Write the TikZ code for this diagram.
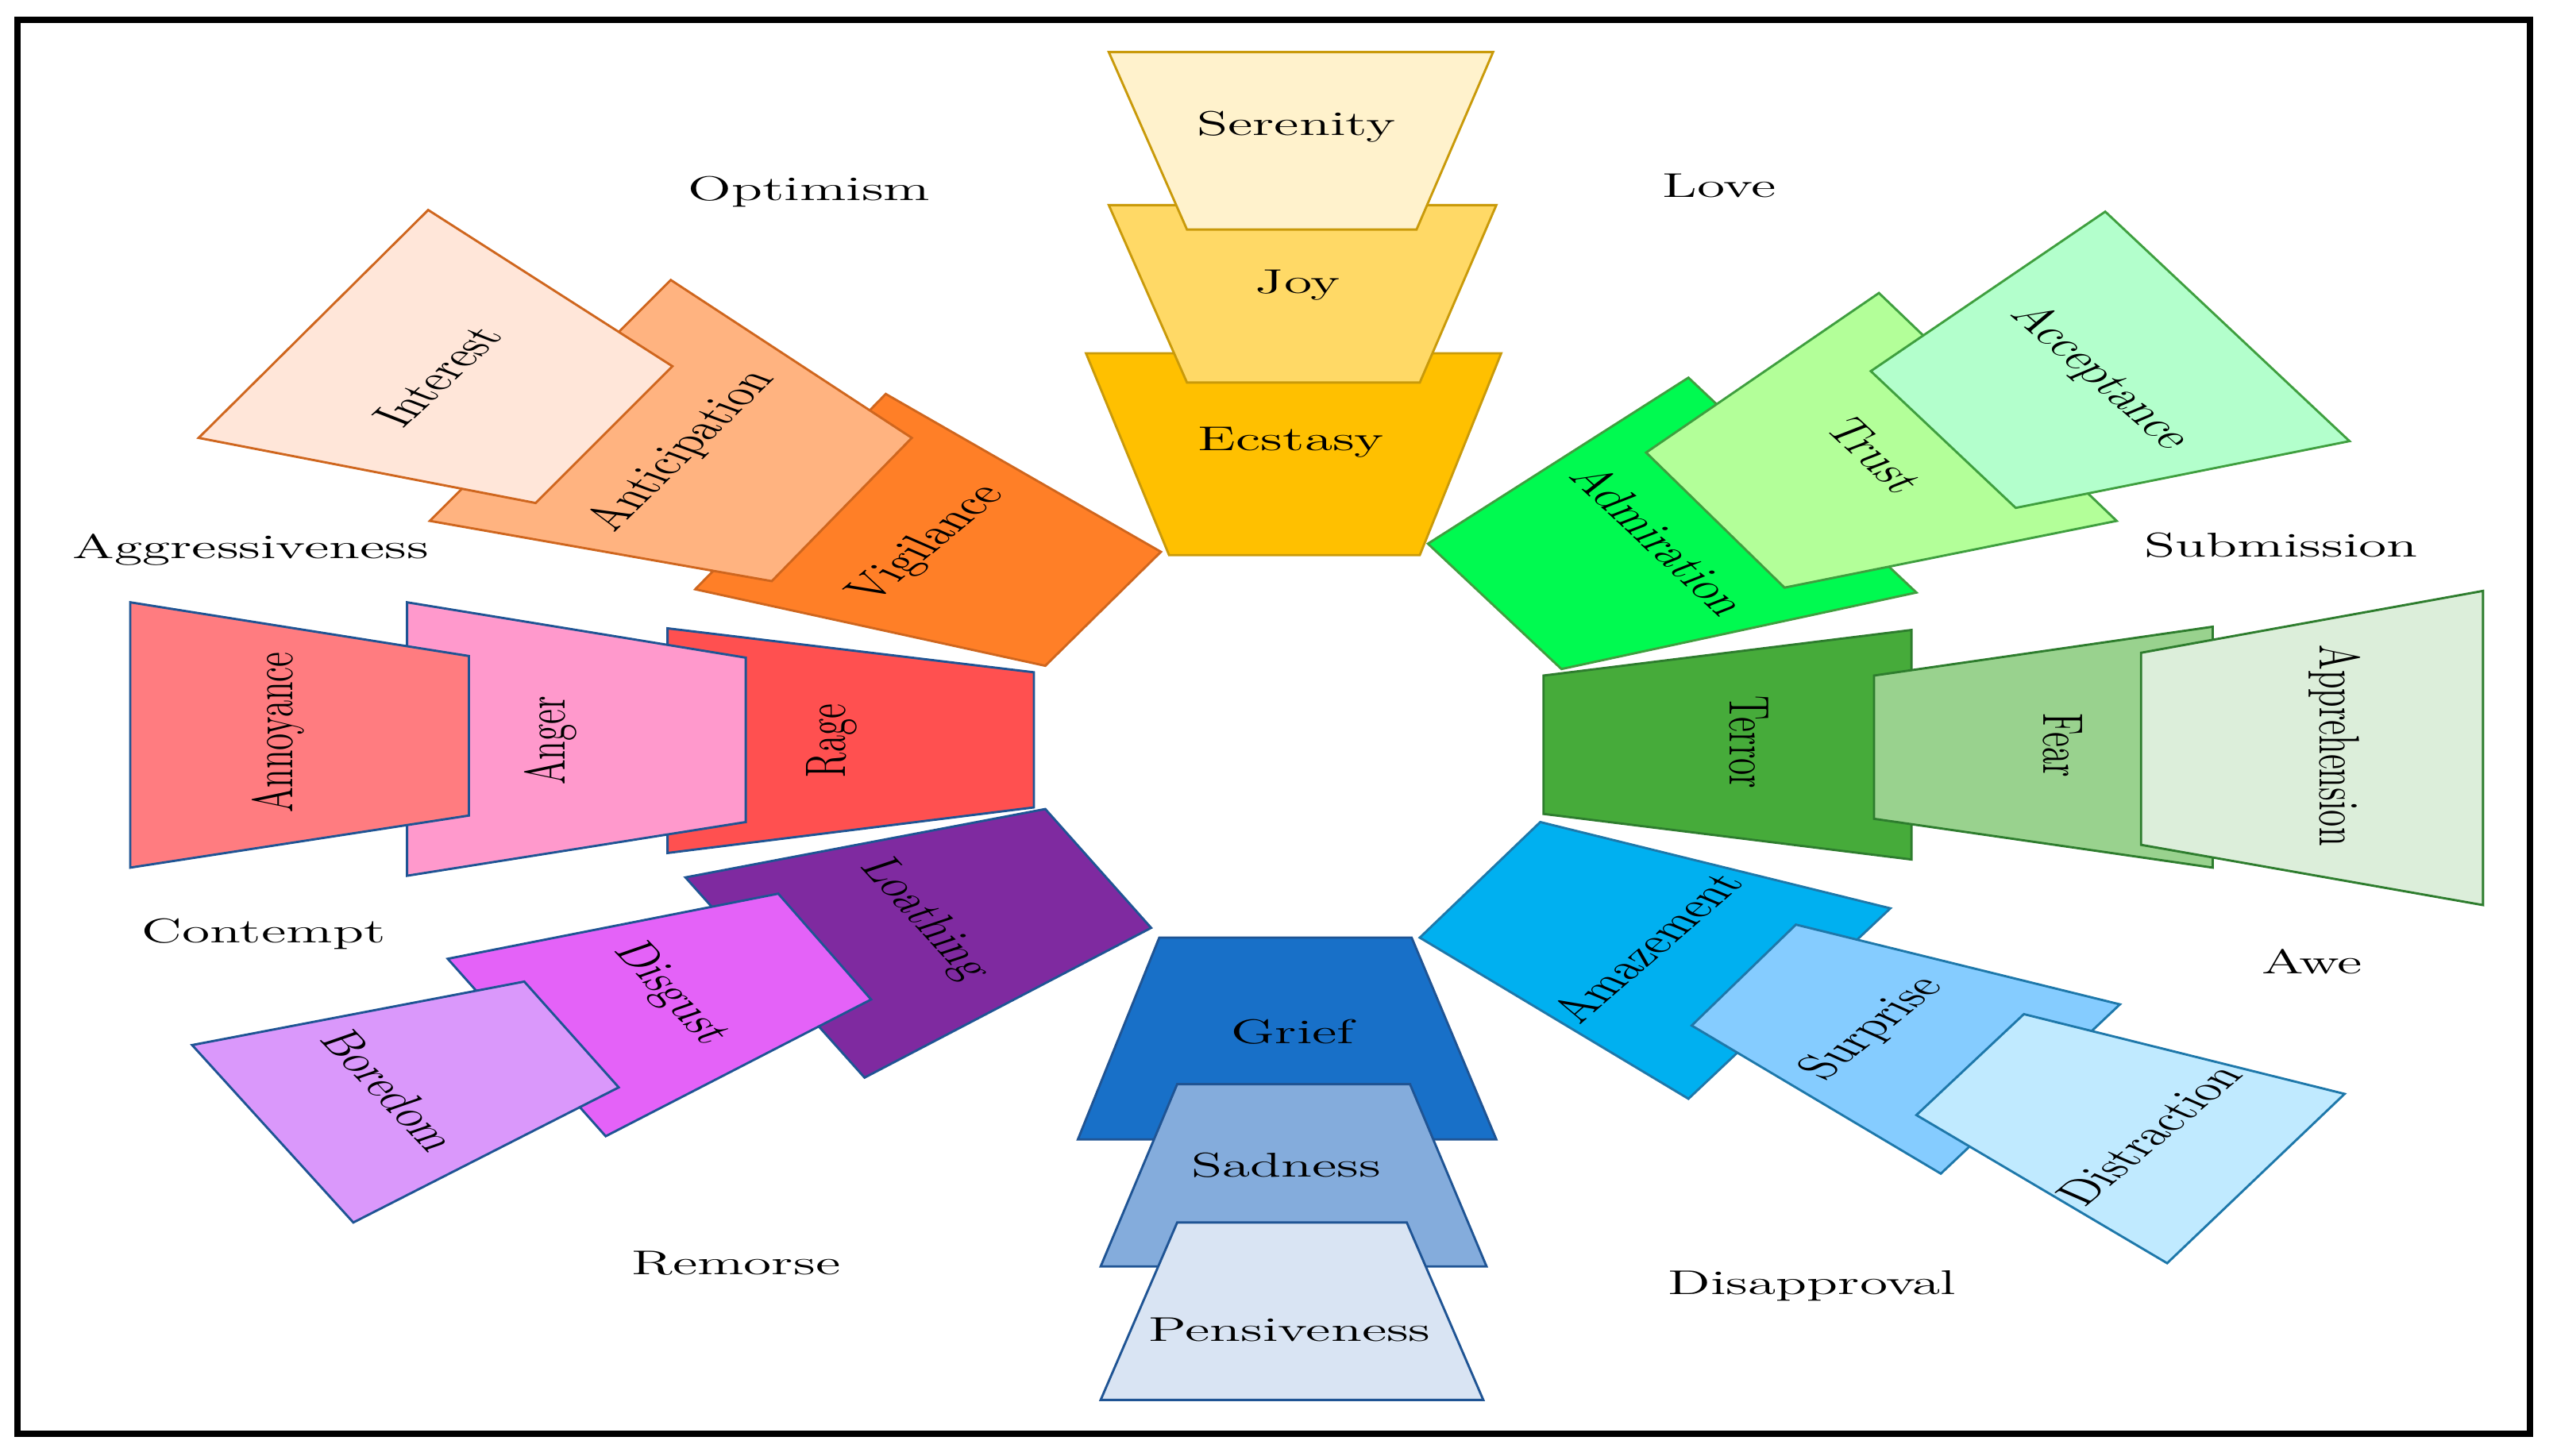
\documentclass[tikz,border=0pt]{standalone}
\usepackage{xcolor}
\definecolor{ylwline}{HTML}{C99A0A}\definecolor{ecstasy}{HTML}{FFC000}\definecolor{joy}{HTML}{FFD966}\definecolor{serenity}{HTML}{FFF2CC}
\definecolor{grnline}{HTML}{3F9F3F}\definecolor{admiration}{HTML}{00FA50}\definecolor{trust}{HTML}{B3FF99}\definecolor{acceptance}{HTML}{B3FFCC}
\definecolor{dkgrnline}{HTML}{2E7D2E}\definecolor{terror}{HTML}{46AB3A}\definecolor{fear}{HTML}{99D28E}\definecolor{apprehension}{HTML}{DCEEDA}
\definecolor{cyanline}{HTML}{1E78AA}\definecolor{amazement}{HTML}{00B0F0}\definecolor{surprise}{HTML}{85CCFF}\definecolor{distraction}{HTML}{C0EAFF}
\definecolor{blueline}{HTML}{1F5494}\definecolor{grief}{HTML}{1870C8}\definecolor{sadness}{HTML}{84ACDC}\definecolor{pensiveness}{HTML}{D9E4F3}
\definecolor{loathing}{HTML}{7F2AA0}\definecolor{disgust}{HTML}{E462F8}\definecolor{boredom}{HTML}{DA98FB}
\definecolor{rage}{HTML}{FF5050}\definecolor{anger}{HTML}{FF99CC}\definecolor{annoyance}{HTML}{FF7C80}
\definecolor{orgline}{HTML}{CF661E}\definecolor{vigilance}{HTML}{FF7F27}\definecolor{anticipation}{HTML}{FFB380}\definecolor{interest}{HTML}{FFE6D9}
\begin{document}
\begin{tikzpicture}[x=0.02cm,y=-0.02cm,petal/.style={line width=0.8pt},tag/.style={font=\fontsize{12}{14}\selectfont,inner sep=0,xscale=1.66},wide/.style={tag,anchor=base}]
\useasboundingbox (0,0) rectangle (1568,894);
\draw[line width=2.2pt] (10.7,12) rectangle (1553.8,881);
\filldraw[petal,draw=orgline,fill=vigilance] (544,242)--(713,339)--(642,409)--(427,362)--cycle;\filldraw[petal,draw=orgline,fill=anticipation] (412,172)--(560,269)--(474,357)--(264,320)--cycle;\filldraw[petal,draw=orgline,fill=interest] (263,129)--(413,225)--(329,309)--(122,269)--cycle;
\filldraw[petal,draw=ylwline,fill=ecstasy] (667,217)--(922,217)--(872,341)--(718,341)--cycle;\filldraw[petal,draw=ylwline,fill=joy] (681,126)--(919,126)--(872,235)--(729,235)--cycle;\filldraw[petal,draw=ylwline,fill=serenity] (681,32)--(917,32)--(870,141)--(729,141)--cycle;
\filldraw[petal,draw=grnline,fill=admiration] (1037,232)--(1177,364)--(959,411)--(877,334)--cycle;\filldraw[petal,draw=grnline,fill=trust] (1154,180)--(1300,320)--(1096,361)--(1011,278)--cycle;\filldraw[petal,draw=grnline,fill=acceptance] (1293,130)--(1443,271)--(1238,312)--(1149,228)--cycle;
\filldraw[petal,draw=dkgrnline,fill=terror] (948,415)--(1174,387)--(1174,528)--(948,500)--cycle;\filldraw[petal,draw=dkgrnline,fill=fear] (1151,415)--(1359,385)--(1359,533)--(1151,503)--cycle;\filldraw[petal,draw=dkgrnline,fill=apprehension] (1315,401)--(1525,363)--(1525,556)--(1315,519)--cycle;
\filldraw[petal,draw=cyanline,fill=amazement] (946,505)--(1161,558)--(1037,675)--(872,576)--cycle;\filldraw[petal,draw=cyanline,fill=surprise] (1103,568)--(1302,617)--(1192,721)--(1039,630)--cycle;\filldraw[petal,draw=cyanline,fill=distraction] (1243,623)--(1440,672)--(1331,776)--(1177,685)--cycle;
\filldraw[petal,draw=blueline,fill=grief] (712,576)--(867,576)--(919,700)--(662,700)--cycle;\filldraw[petal,draw=blueline,fill=sadness] (723,666)--(866,666)--(913,778)--(676,778)--cycle;\filldraw[petal,draw=blueline,fill=pensiveness] (723,751)--(864,751)--(911,860)--(676,860)--cycle;
\filldraw[petal,draw=blueline,fill=loathing] (642,497)--(707,570)--(531,662)--(421,539)--cycle;\filldraw[petal,draw=blueline,fill=disgust] (478,549)--(535,614)--(372,698)--(275,589)--cycle;\filldraw[petal,draw=blueline,fill=boredom] (322,603)--(380,668)--(217,751)--(118,642)--cycle;
\filldraw[petal,draw=blueline,fill=rage] (410,386)--(635,413)--(635,496)--(410,524)--cycle;\filldraw[petal,draw=blueline,fill=anger] (250,370)--(458,404)--(458,505)--(250,538)--cycle;\filldraw[petal,draw=blueline,fill=annoyance] (80,370)--(288,403)--(288,501)--(80,533)--cycle;
\node[wide] (ser) at (796,83) {Serenity};\node[wide] (joy) at (797,180) {Joy};\node[wide] (ecs) at (793,277) {Ecstasy};
\node[wide] (gri) at (794,641) {Grief};\node[wide] (sad) at (790,723) {Sadness};\node[wide] (pen) at (792,824) {Pensiveness};
\node[tag,rotate=57] (int) at (269,231) {Interest};\node[tag,rotate=58] (ant) at (419,277) {Anticipation};\node[tag,rotate=54] (vig) at (570,334) {Vigilance};
\node[tag,rotate=-57] (adm) at (1020,332) {Admiration};\node[tag,rotate=-57] (tru) at (1152,280) {Trust};\node[tag,rotate=-55] (acc) at (1290,232) {Acceptance};
\node[tag,rotate=-90] (ter) at (1074,456) {Terror};\node[tag,rotate=-90] (fea) at (1267,458) {Fear};\node[tag,rotate=-90] (app) at (1434,458) {Apprehension};
\node[tag,rotate=55] (ama) at (1011,582) {Amazement};\node[tag,rotate=53] (sur) at (1150,632) {Surprise};\node[tag,rotate=54] (dis) at (1320,697) {Distraction};
\node[tag,rotate=-61] (loa) at (568,565) {Loathing};\node[tag,rotate=-60] (dsg) at (412,611) {Disgust};\node[tag,rotate=-60] (bor) at (240,670) {Boredom};
\node[tag,rotate=90] (rag) at (511,455) {Rage};\node[tag,rotate=90] (ang) at (338,455) {Anger};\node[tag,rotate=90] (ann) at (171,450) {Annoyance};
\node[wide] (opt) at (497,123) {Optimism};\node[wide] (lov) at (1056,121) {Love};\node[wide] (agg) at (154,343) {Aggressiveness};\node[wide] (sub) at (1401,342) {Submission};
\node[wide] (con) at (162,579) {Contempt};\node[wide] (awe) at (1420,598) {Awe};\node[wide] (rem) at (452,783) {Remorse};\node[wide] (dsa) at (1113,795) {Disapproval};
\end{tikzpicture}
\end{document}
